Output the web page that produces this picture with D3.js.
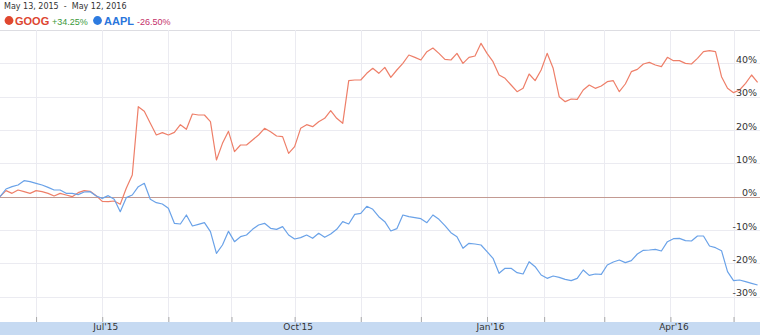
<!DOCTYPE html>
<html>
<head>
<meta charset="utf-8">
<script src="https://cdn.jsdelivr.net/npm/d3@7"></script>
<style>
  body { margin: 0; background: #fff; }
  svg { display: block; }
</style>
</head>
<body>
<div id="chart"></div>
<script>
// one value every 2 trading days, % change since May 13, 2015
let step = 2;
let goog = [0, 1.8, 1.0, 2.0, 1.5, 1.0, 1.8, 1.5, 1.0, 0.2,
  1.0, 0.5, 0.0, 1.2, 1.8, 1.6, 0.3, -1.4, -1.5, -1.3,
  -2.3, 2.5, 6.5, 27.0, 25.6, 22.0, 18.5, 19.2, 18.5, 19.3,
  21.6, 20.2, 24.8, 24.5, 24.5, 22.5, 11.0, 16.0, 19.6, 13.5,
  15.5, 15.5, 17.0, 18.5, 20.5, 19.5, 18.2, 18.0, 13.0, 15.0,
  20.5, 21.6, 21.0, 22.5, 23.5, 25.8, 23.5, 22.0, 34.8, 35.0,
  35.0, 37.0, 38.5, 37.0, 38.8, 35.8, 38.0, 40.0, 42.5, 41.8,
  41.0, 43.5, 44.6, 43.0, 41.2, 41.0, 43.0, 40.0, 41.8, 42.2,
  46.0, 43.0, 40.5, 36.5, 35.5, 33.5, 31.5, 32.5, 36.8, 34.8,
  38.0, 43.0, 38.5, 30.0, 28.5, 29.3, 29.2, 32.0, 33.5, 32.5,
  33.2, 34.5, 34.8, 31.5, 33.8, 37.5, 38.2, 39.8, 40.3, 39.5,
  39.0, 41.8, 40.8, 40.8, 40.0, 39.8, 41.5, 43.5, 43.8, 43.5,
  36.0, 32.5, 31.2, 32.0, 34.0, 36.5, 34.3];
let aapl = [0, 2.3, 3.0, 3.5, 4.8, 4.5, 4.0, 3.5, 2.8, 2.0,
  2.0, 1.0, 1.0, 0.6, 1.4, 1.5, 0.2, -0.5, 0.3, -0.8,
  -4.5, -0.3, 0.5, 3.0, 4.0, -0.8, -1.8, -2.2, -3.5, -8.0,
  -8.2, -5.5, -8.8, -8.3, -7.8, -10.5, -17.0, -14.5, -10.4, -13.5,
  -12.0, -11.5, -9.8, -8.5, -8.0, -9.5, -9.8, -9.0, -11.5, -12.7,
  -12.3, -11.5, -12.5, -11.0, -12.2, -11.2, -9.8, -7.5, -8.2, -5.3,
  -5.0, -2.9, -3.8, -6.0, -7.5, -10.3, -9.6, -5.5, -6.0, -6.3,
  -6.6, -7.8, -5.5, -6.8, -8.7, -10.8, -12.0, -15.5, -14.0, -14.2,
  -14.5, -16.5, -18.5, -23.0, -21.5, -21.5, -22.8, -23.2, -19.5, -21.0,
  -23.5, -24.5, -23.8, -24.2, -24.8, -25.2, -24.5, -22.0, -23.6, -23.2,
  -23.3, -20.5, -19.6, -19.0, -19.8, -19.2, -17.2, -16.1, -16.0, -15.8,
  -16.3, -13.5, -12.6, -12.5, -13.2, -13.3, -11.8, -11.8, -14.8, -15.3,
  -16.2, -22.5, -25.2, -25.0, -25.5, -26.0, -26.5];

// first trading day of each month (trading-day index)
let monthDays = [12, 34, 56, 77, 98, 120, 140, 162, 181, 201, 223, 244];
let labelDays = [34, 98, 162, 223];
let labelText = ["Jul'15", "Oct'15", "Jan'16", "Apr'16"];
let yTicks = [-30, -20, -10, 0, 10, 20, 30, 40];
let gridVals = [-30, -20, -10, 10, 20, 30, 40, 50];

let W = 760, H = 335;
let svg = d3.select("#chart").append("svg")
  .attr("width", W)
  .attr("height", H)
  .style("font-family", "'DejaVu Sans', Verdana, sans-serif");

let x = d3.scaleLinear().domain([0, 252.8]).range([0, 760]);
let y = d3.scaleLinear().domain([-37.6, 50]).range([322, 30]);

// header
svg.append("text")
  .attr("x", 4).attr("y", 9)
  .attr("font-size", 8)
  .attr("fill", "#333")
  .style("white-space", "pre")
  .text("May 13, 2015  -  May 12, 2016");

let legend = svg.append("g").style("font-family", "Arial, 'Liberation Sans', sans-serif");
legend.append("circle").attr("cx", 9).attr("cy", 20.5).attr("r", 4.4).attr("fill", "#e0472f");
legend.append("text").attr("x", 15).attr("y", 24.5).attr("font-size", 11).attr("font-weight", "bold")
  .attr("fill", "#dd4530").text("GOOG");
legend.append("text").attr("x", 52).attr("y", 24.5).attr("font-size", 9)
  .attr("fill", "#3b9a3b").text("+34.25%");
legend.append("circle").attr("cx", 97.5).attr("cy", 20.5).attr("r", 4.4).attr("fill", "#2d7be0");
legend.append("text").attr("x", 104).attr("y", 24.5).attr("font-size", 11).attr("font-weight", "bold")
  .attr("fill", "#2a76dc").text("AAPL");
legend.append("text").attr("x", 137).attr("y", 24.5).attr("font-size", 9)
  .attr("fill", "#c4306a").text("-26.50%");

// grid
svg.append("g")
  .selectAll("line")
  .data(gridVals)
  .enter()
  .append("line")
  .attr("x1", 0).attr("x2", W)
  .attr("y1", d => Math.round(y(d)) + 0.5)
  .attr("y2", d => Math.round(y(d)) + 0.5)
  .attr("stroke", d => d == 50 ? "#dddde2" : "#ebebf1");

svg.append("g")
  .selectAll("line")
  .data(monthDays)
  .enter()
  .append("line")
  .attr("x1", d => Math.round(x(d)) + 0.5)
  .attr("x2", d => Math.round(x(d)) + 0.5)
  .attr("y1", 30).attr("y2", 322)
  .attr("stroke", "#ebebf1");

// bottom band + ticks
svg.append("rect")
  .attr("x", 0).attr("y", 322)
  .attr("width", W).attr("height", 13)
  .attr("fill", "#c6daf2");

let xAxis = svg.append("g")
  .attr("transform", "translate(0,322)")
  .call(d3.axisTop(x).tickValues(monthDays).tickSize(5).tickFormat(""));
xAxis.select(".domain").remove();
xAxis.selectAll("line").attr("stroke", "#aaa");

let xLabels = svg.append("g")
  .attr("transform", "translate(3,322)")
  .call(d3.axisBottom(x).tickValues(labelDays).tickSize(0).tickPadding(2)
    .tickFormat((d, i) => labelText[i]));
xLabels.select(".domain").remove();
xLabels.selectAll("text")
  .attr("font-size", 9)
  .attr("font-family", "'DejaVu Sans', Verdana, sans-serif")
  .attr("fill", "#333");

// zero line
svg.append("line")
  .attr("x1", 0).attr("x2", W)
  .attr("y1", Math.round(y(0)) + 0.5).attr("y2", Math.round(y(0)) + 0.5)
  .attr("stroke", "#c39a92");

// series
let line = d3.line()
  .x((d, i) => x(i * step))
  .y(d => y(d));

svg.append("path")
  .datum(goog)
  .attr("d", line)
  .attr("fill", "none")
  .attr("stroke", "#ee7f69")
  .attr("stroke-width", 1.2)
  .attr("stroke-linejoin", "round");

svg.append("path")
  .datum(aapl)
  .attr("d", line)
  .attr("fill", "none")
  .attr("stroke", "#6aa2e8")
  .attr("stroke-width", 1.2)
  .attr("stroke-linejoin", "round");

// y labels on the right
let yAxis = svg.append("g")
  .attr("transform", "translate(757,0)")
  .call(d3.axisLeft(y).tickValues(yTicks).tickSize(0).tickPadding(0)
    .tickFormat(d => d + "%"));
yAxis.select(".domain").remove();
yAxis.selectAll("text")
  .attr("dy", "-0.1em")
  .attr("font-size", 9.5)
  .attr("font-family", "'DejaVu Sans', Verdana, sans-serif")
  .attr("fill", "#333");
</script>
</body>
</html>
